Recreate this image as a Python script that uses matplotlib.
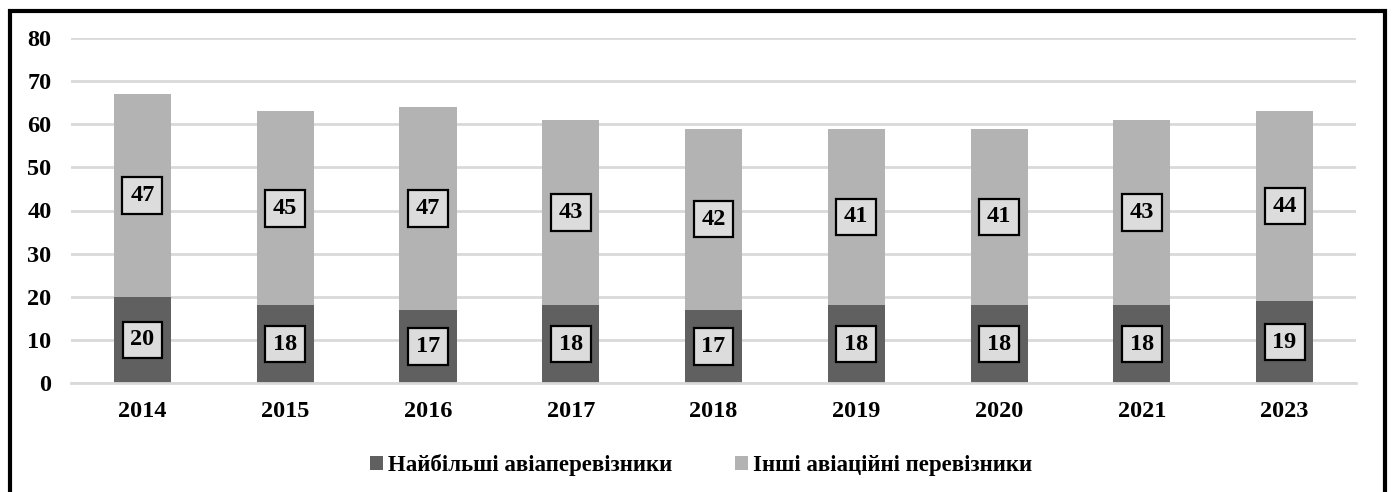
import matplotlib
matplotlib.use("Agg")
import matplotlib.pyplot as plt
from matplotlib.patches import Rectangle

years = ["2014", "2015", "2016", "2017", "2018", "2019", "2020", "2021", "2023"]
largest = [20, 18, 17, 18, 17, 18, 18, 18, 19]
others = [47, 45, 47, 43, 42, 41, 41, 43, 44]
series_names = ["Найбільші авіаперевізники", "Інші авіаційні перевізники"]
yticks = [0, 10, 20, 30, 40, 50, 60, 70, 80]

plt.rcParams['font.family'] = ['Liberation Serif', 'DejaVu Serif']
plt.rcParams['font.weight'] = 'bold'

W, H = 1392, 492
fig = plt.figure(figsize=(W / 100, H / 100), dpi=100)
ax = fig.add_axes([71 / W, 1 - 383 / H, (1356 - 71) / W, (383 - 38) / H])

x = list(range(len(years)))
dark = "#606060"
light = "#b3b3b3"
b1 = ax.bar(x, largest, width=0.4, color=dark, label=series_names[0], zorder=2)
b2 = ax.bar(x, others, width=0.4, bottom=largest, color=light, label=series_names[1], zorder=2)

box = dict(boxstyle="square,pad=0.32", facecolor="#dcdcdc", edgecolor="black", linewidth=1.6)
for i in x:
    ax.text(i, largest[i] / 2, str(largest[i]), ha="center", va="center",
            fontsize=17.5, fontweight="bold", bbox=box, zorder=3)
    ax.text(i, largest[i] + others[i] / 2, str(others[i]), ha="center", va="center",
            fontsize=17.5, fontweight="bold", bbox=box, zorder=3)

ax.set_xlim(-0.5, len(years) - 0.5)
ax.set_ylim(0, 80)
ax.set_yticks(yticks)
ax.set_xticks(x)
ax.set_xticklabels(years)
ax.tick_params(axis="both", length=0, labelsize=17.5)
ax.tick_params(axis="y", pad=14)
ax.tick_params(axis="x", pad=13)
for lab in ax.get_xticklabels() + ax.get_yticklabels():
    lab.set_fontweight("bold")
ax.grid(axis="y", color="#d9d9d9", linewidth=2, zorder=0)
ax.set_axisbelow(True)
for s in ["top", "right", "left"]:
    ax.spines[s].set_visible(False)
ax.spines["bottom"].set_color("#d9d9d9")
ax.spines["bottom"].set_linewidth(2)

leg = fig.legend(handles=[b1, b2], loc="center", bbox_to_anchor=(701 / W, 1 - 465 / H),
                 ncol=2, frameon=False, prop={"size": 16.5, "weight": "bold"},
                 handlelength=0.57, handleheight=0.57, handletextpad=0.2, columnspacing=2.75)

border = Rectangle((9.5 / W, -0.05), (1384.5 - 9.5) / W, (1 - 11 / H) + 0.05,
                   transform=fig.transFigure, fill=False, edgecolor="black",
                   linewidth=3, clip_on=False)
fig.patches.append(border)

fig.savefig("out.png", dpi=100)
